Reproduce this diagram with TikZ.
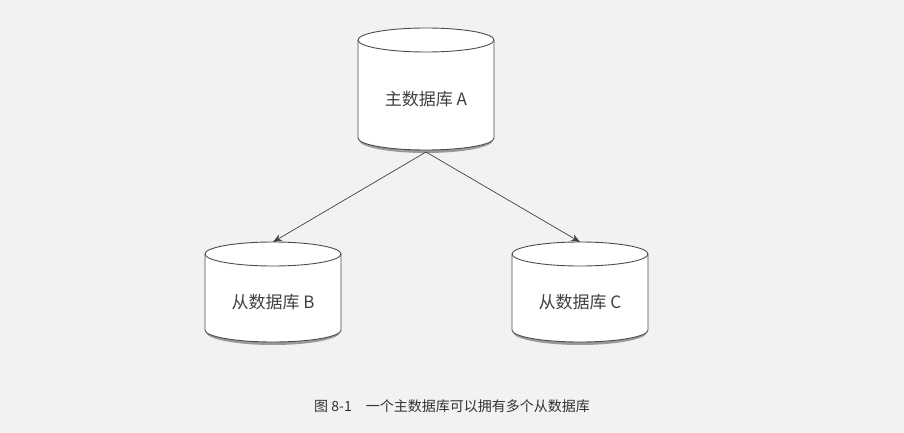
\documentclass[tikz,border=0pt]{standalone}
\usepackage{fontspec}
\setmainfont{Liberation Sans}
\newfontfamily\cjk{Noto Sans CJK SC}
\usetikzlibrary{arrows.meta}
\begin{document}
\begin{tikzpicture}[x=1pt,y=-1pt,
  dbline/.style={draw=black!70,line width=0.9pt,fill=white},
  conn/.style={draw=black!75,line width=0.7pt,-{Stealth[length=9pt,width=7pt]}},
  lbl/.style={font=\cjk\fontsize{17}{17}\selectfont,text=black!75}]
\fill[black!5] (0,0) rectangle (904,433);
\useasboundingbox (0,0) rectangle (904,433);
\newcommand{\dbcyl}[5]{% name, cx, top y, bottom y, label
  \fill[black!40] (#2-67,#4+2) arc[start angle=180,end angle=0,x radius=67,y radius=13] -- (#2+67,#4-2) -- (#2-67,#4-2) -- cycle;
  \path[dbline] (#2-68,#3) -- (#2-68,#4) arc[start angle=180,end angle=0,x radius=68,y radius=12] -- (#2+68,#3) arc[start angle=0,end angle=-180,x radius=68,y radius=12] -- cycle;
  \draw[black!70,line width=0.9pt] (#2-68,#3) arc[start angle=180,end angle=0,x radius=68,y radius=12];
  \node[lbl] (#1) at (#2,{(#3+#4)/2+10}) {#5};
  \coordinate (#1t) at (#2,#3-12);
  \coordinate (#1b) at (#2,#4+14);
}
\dbcyl{a}{426}{40}{138}{主数据库 A}
\dbcyl{b}{273}{254}{330}{从数据库 B}
\dbcyl{c}{580}{254}{330}{从数据库 C}
\draw[conn] (ab) -- (bt);
\draw[conn] (ab) -- (ct);
\node[font=\cjk\fontsize{14}{14}\selectfont,text=black!80] (cap) at (452,406) {图 8-1\quad 一个主数据库可以拥有多个从数据库};
\end{tikzpicture}
\end{document}
